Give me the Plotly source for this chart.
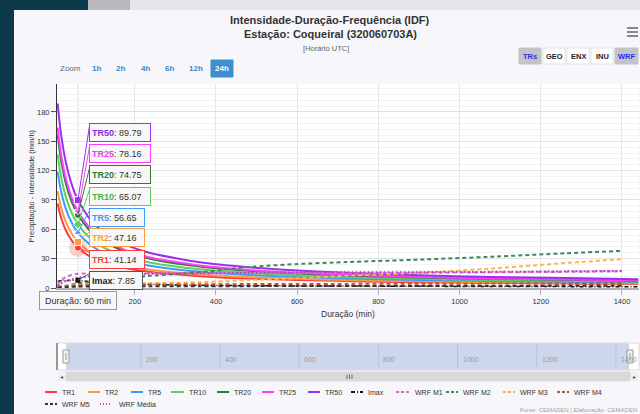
import plotly.graph_objects as go

# ---------------- data ----------------
DUR = [10, 15, 20, 30, 45, 60, 90, 120, 180, 240, 360, 480, 600, 720, 900, 1080, 1260, 1440]
DUR_WRF = [10, 15, 20, 30, 45, 60, 90, 120, 180, 240, 360, 480, 600, 720, 900, 1080, 1260, 1400]

TR1 = [86.4, 77.1, 69.8, 59.0, 48.3, 41.14, 32.1, 26.6, 20.1, 16.3, 12.1, 9.7, 8.2, 7.1, 6.0, 5.2, 4.6, 4.1]
TR2 = [99.0, 88.4, 80.0, 67.6, 55.4, 47.16, 36.8, 30.5, 23.0, 18.7, 13.8, 11.1, 9.4, 8.2, 6.8, 5.9, 5.3, 4.7]
TR5 = [119.0, 106.2, 96.1, 81.2, 66.5, 56.65, 44.2, 36.6, 27.6, 22.5, 16.6, 13.4, 11.3, 9.8, 8.2, 7.1, 6.3, 5.7]
TR10 = [136.6, 122.0, 110.4, 93.3, 76.4, 65.07, 50.8, 42.0, 31.8, 25.8, 19.1, 15.4, 12.9, 11.3, 9.4, 8.2, 7.3, 6.5]
TR20 = [157.0, 140.2, 126.9, 107.2, 87.8, 74.75, 58.4, 48.3, 36.5, 29.7, 21.9, 17.6, 14.9, 12.9, 10.8, 9.4, 8.4, 7.5]
TR25 = [164.1, 146.6, 132.6, 112.1, 91.8, 78.16, 61.0, 50.5, 38.1, 31.0, 22.9, 18.4, 15.6, 13.5, 11.3, 9.8, 8.8, 7.8]
TR50 = [188.6, 168.4, 152.4, 128.8, 105.4, 89.79, 70.1, 58.0, 43.8, 35.6, 26.3, 21.2, 17.9, 15.5, 13.0, 11.3, 10.1, 9.0]
IMAX = [7.0, 7.3, 7.5, 7.7, 7.8, 7.85, 6.6, 5.4, 4.1, 3.4, 2.7, 2.3, 2.0, 1.8, 1.6, 1.5, 1.4, 1.3]

WRF_M1 = [3.0, 6.0, 8.5, 11.0, 13.5, 14.5, 15.0, 15.0, 15.0, 15.0, 15.0, 15.0, 15.2, 15.3, 15.5, 16.0, 16.5, 17.0]
WRF_M2 = [1.0, 1.5, 2.0, 2.5, 3.5, 4.5, 6.0, 7.5, 10.0, 12.5, 16.0, 21.5, 24.5, 26.5, 29.0, 32.0, 35.5, 38.0]
WRF_M3 = [1.0, 1.2, 1.5, 2.0, 2.5, 3.0, 3.5, 4.0, 4.5, 5.0, 6.0, 8.0, 10.0, 12.5, 15.5, 20.0, 25.5, 29.5]
WRF_M4 = [0.5, 0.8, 1.0, 1.5, 2.0, 2.5, 3.0, 3.2, 3.5, 3.6, 3.8, 4.0, 4.0, 4.2, 4.3, 4.5, 4.6, 4.8]
WRF_M5 = [0.5, 0.6, 0.8, 1.0, 1.2, 1.4, 1.5, 1.6, 1.7, 1.8, 1.8, 1.9, 2.0, 2.0, 2.1, 2.1, 2.2, 2.2]
WRF_MEDIA = [2.0, 3.5, 5.0, 7.0, 9.0, 10.5, 12.0, 13.0, 14.0, 14.5, 15.0, 15.5, 16.0, 16.0, 16.2, 16.5, 17.0, 17.5]

HOVER_DUR = 60
X_TICKS = [200, 400, 600, 800, 1000, 1200, 1400]
Y_TICKS = [0, 30, 60, 90, 120, 150, 180]
NAV_TICKS = [200, 400, 600, 800, 1000, 1200, 1400]
ZOOM_BUTTONS = ["1h", "2h", "4h", "6h", "12h", "24h"]
TOP_BUTTONS = ["TRs", "GEO", "ENX", "INU", "WRF"]

TR_SERIES = [
    ("TR1", TR1, "#ff3b3b", "circle"),
    ("TR2", TR2, "#ff9a3c", "square"),
    ("TR5", TR5, "#3d9bff", "triangle-up"),
    ("TR10", TR10, "#5ccf5c", "diamond"),
    ("TR20", TR20, "#2f7d34", "circle"),
    ("TR25", TR25, "#ff3dff", "triangle-down"),
    ("TR50", TR50, "#9b2ff0", "square"),
]
WRF_SERIES = [
    ("WRF M1", WRF_M1, "#cf6fd6", "4px,3px"),
    ("WRF M2", WRF_M2, "#3a8a5a", "4px,3px"),
    ("WRF M3", WRF_M3, "#ffb446", "4px,3px"),
    ("WRF M4", WRF_M4, "#b8533c", "4px,3px"),
    ("WRF M5", WRF_M5, "#333333", "4px,3px"),
    ("WRF Média", WRF_MEDIA, "#c43fc4", "2px,2px"),
]

# ---------------- geometry helpers ----------------
W, H = 640, 414
ML, MR, MT, MB = 57, 1, 84, 126
PW, PH = W - ML - MR, H - MT - MB
X0, X1 = 8.4, 1441.9
Y0, Y1 = 0.0, 208.6
FONT = "Liberation Sans, Arial, sans-serif"


def pxp(x):
    return (x - ML) / PW


def pyp(y):
    return (H - MB - y) / PH


def dx(x):
    return X0 + (x - ML) / PW * (X1 - X0)


def dy(y):
    return Y0 + (H - MB - y) / PH * (Y1 - Y0)


shapes = []
annotations = []


def rect(x0, y0, x1, y1, fill, line=None, lw=0, layer="below"):
    shapes.append(dict(type="rect", xref="paper", yref="paper",
                       x0=pxp(x0), x1=pxp(x1), y0=pyp(y1), y1=pyp(y0),
                       fillcolor=fill, line=dict(color=line or fill, width=lw), layer=layer))


def hline(x0, x1, y, color, width=1, dash="solid", layer="above"):
    shapes.append(dict(type="line", xref="paper", yref="paper",
                       x0=pxp(x0), x1=pxp(x1), y0=pyp(y), y1=pyp(y),
                       line=dict(color=color, width=width, dash=dash), layer=layer))


def vline(x, y0, y1, color, width=1, layer="above"):
    shapes.append(dict(type="line", xref="paper", yref="paper",
                       x0=pxp(x), x1=pxp(x), y0=pyp(y0), y1=pyp(y1),
                       line=dict(color=color, width=width), layer=layer))


def text(x, y, s, size=8, color="#333333", xanchor="center", bold=False):
    annotations.append(dict(xref="paper", yref="paper", x=pxp(x), y=pyp(y),
                            text=("<b>%s</b>" % s) if bold else s, showarrow=False,
                            xanchor=xanchor, yanchor="middle",
                            font=dict(size=size, color=color, family=FONT)))


fig = go.Figure()

# ---------------- traces ----------------
for name, vals, color, sym in TR_SERIES:
    fig.add_trace(go.Scatter(x=DUR, y=vals, mode="lines", name=name, showlegend=False,
                             line=dict(color=color, width=2, shape="spline", smoothing=0.6)))
fig.add_trace(go.Scatter(x=DUR, y=IMAX, mode="lines", name="Imax", showlegend=False,
                         line=dict(color="#111111", width=1.5, dash="4px,2px,1px,2px")))
for name, vals, color, dash in WRF_SERIES:
    fig.add_trace(go.Scatter(x=DUR_WRF, y=vals, mode="lines", name=name, showlegend=False,
                             line=dict(color=color, width=2, dash=dash, shape="spline", smoothing=0.5)))

hi = DUR.index(HOVER_DUR)
# halo on TR1
fig.add_trace(go.Scatter(x=[DUR[hi]], y=[TR1[hi]], mode="markers", showlegend=False,
                         marker=dict(size=18, color="rgba(255,59,59,0.25)")))
for name, vals, color, sym in TR_SERIES:
    fig.add_trace(go.Scatter(x=[DUR[hi]], y=[vals[hi]], mode="markers", showlegend=False,
                             marker=dict(size=7, color=color, symbol=sym,
                                         line=dict(color="#ffffff", width=1))))
fig.add_trace(go.Scatter(x=[DUR[hi]], y=[IMAX[hi]], mode="markers", showlegend=False,
                         marker=dict(size=5, color="#111111", symbol="square")))

# crosshair
shapes.append(dict(type="line", xref="x", yref="paper", x0=DUR[hi], x1=DUR[hi], y0=0, y1=1,
                   line=dict(color="#dddddd", width=1), layer="below"))

# ---------------- background pieces ----------------
rect(-5, -5, 14, 420, "#0d3a4b")
rect(14, -5, 88, 10, "#0d3a4b")
rect(88, -5, 130, 10, "#b9b9bd")
rect(130, -5, 645, 10, "#e6e6ea")

# ---------------- titles ----------------
text(330, 20, "Intensidade-Duração-Frequência (IDF)", 11, "#333333", bold=True)
text(330, 34.5, "Estação: Coqueiral (320060703A)", 11, "#333333", bold=True)
text(326, 49, "[Horário UTC]", 7.5, "#666666")

# menu icon
for yy in (28, 32, 36):
    hline(627, 638, yy, "#666666", 1.5)

# zoom buttons
text(70, 68, "Zoom", 8, "#666666")
zb_x = [96, 120, 145, 169, 196, 222]
for lab, xx in zip(ZOOM_BUTTONS, zb_x):
    if lab == "24h":
        shapes.append(dict(type="rect", xref="paper", yref="paper",
                           x0=pxp(211), x1=pxp(233), y0=pyp(77), y1=pyp(60),
                           fillcolor="#3d8fd1", line=dict(color="#3d8fd1", width=1), layer="above"))
        text(xx, 68.5, lab, 8, "#ffffff", bold=True)
    else:
        text(xx, 68.5, lab, 8, "#3b86c6", bold=True)

# top-right buttons
tb = [(519, 541), (543, 565), (567, 589), (591, 613), (615, 638)]
for lab, (a, b) in zip(TOP_BUTTONS, tb):
    on = lab in ("TRs", "WRF")
    shapes.append(dict(type="rect", xref="paper", yref="paper",
                       x0=pxp(a), x1=pxp(b), y0=pyp(64), y1=pyp(48),
                       fillcolor="#c4c4c8" if on else "#ffffff",
                       line=dict(color="#c4c4c8" if on else "#e2e2e2", width=1), layer="above"))
    text((a + b) / 2, 56.5, lab, 7.5, "#2b2bf0" if on else "#222222", bold=True)

# axis titles
annotations.append(dict(xref="paper", yref="paper", x=pxp(24), y=pyp(186), textangle=-90,
                        text="Precipitação - Intensidade (mm/h)", showarrow=False,
                        font=dict(size=7.5, color="#333333", family=FONT)))
text(348, 314, "Duração (min)", 8.5, "#333333")

# ---------------- tooltips ----------------
boxes = [
    ("TR50", TR50, "#9b2ff0", "#8a2be2", 123, 62),
    ("TR25", TR25, "#ff3dff", "#ee3aee", 143.5, 62),
    ("TR20", TR20, "#2f7d34", "#2f7d34", 165, 62),
    ("TR10", TR10, "#5ccf5c", "#45b845", 186.5, 62),
    ("TR5", TR5, "#3d9bff", "#3d9bff", 207.5, 56),
    ("TR2", TR2, "#ff9a3c", "#ff9a3c", 228.5, 56),
    ("TR1", TR1, "#ff3b3b", "#ff3b3b", 249.5, 56),
    ("Imax", IMAX, "#555555", "#222222", 270.5, 54),
]
BOX_LEFT = 89
for name, vals, bcol, tcol, top, w in boxes:
    v = vals[hi]
    # connector from the hovered point to the box corner
    shapes.append(dict(type="line", xref="x", yref="y", x0=DUR[hi], y0=v,
                       x1=dx(BOX_LEFT + 0.5), y1=dy(top + 3),
                       line=dict(color=bcol, width=1), layer="above"))
    annotations.append(dict(
        xref="paper", yref="paper", x=pxp(BOX_LEFT), y=pyp(top),
        xanchor="left", yanchor="top", showarrow=False,
        text="<b><span style='color:%s'>%s</span></b>: %.2f" % (tcol, name, v),
        bgcolor="#f7f7f7", bordercolor=bcol, borderwidth=1, borderpad=2,
        width=w - 6, height=13, align="left",
        font=dict(size=9, color="#333333", family=FONT)))
annotations.append(dict(xref="paper", yref="paper", x=pxp(39), y=pyp(291),
                        xanchor="left", yanchor="top", showarrow=False,
                        text="Duração: %d min" % DUR[hi], bgcolor="#f7f7f7",
                        bordercolor="#999999", borderwidth=1, borderpad=2,
                        width=72, height=13, align="center",
                        font=dict(size=9, color="#333333", family=FONT)))

# ---------------- navigator ----------------
NAV_T, NAV_B = 343, 370
NAV_PX0, NAV_K = 61.8, 0.3958
rect(57, NAV_T, 639, NAV_B, "#ffffff", "#d8d8e0", 1)
for t in NAV_TICKS:
    vline(NAV_PX0 + t * NAV_K, NAV_T, NAV_B, "#e0e0e8", 1, layer="below")
rect(66, NAV_T + 0.5, 629, NAV_B - 0.5, "rgba(102,133,194,0.33)", layer="above")
for t in NAV_TICKS:
    text(NAV_PX0 + t * NAV_K + 3, 359, str(t), 7, "#999999", xanchor="left")
vline(57, NAV_T, NAV_B, "#444444", 1)
for hx in (63, 627):
    shapes.append(dict(type="rect", xref="paper", yref="paper",
                       x0=pxp(hx), x1=pxp(hx + 6), y0=pyp(363), y1=pyp(350),
                       fillcolor="#f2f2f2", line=dict(color="#999999", width=1), layer="above"))
    vline(hx + 3, 353, 360, "#999999", 1)
# scrollbar
rect(57, 372, 639, 381, "#f0f0f0")
shapes.append(dict(type="rect", xref="paper", yref="paper",
                   x0=pxp(66), x1=pxp(630), y0=pyp(381), y1=pyp(372),
                   fillcolor="#d9d9d9", line=dict(color="#d9d9d9", width=1), layer="above"))
for gx in (347, 349.5, 352):
    vline(gx, 374.5, 379, "#666666", 1)
text(61, 376.5, "◂", 6, "#555555")
text(634, 376.5, "▸", 6, "#555555")

# ---------------- legend (manual) ----------------
legend_items = [
    ("TR1", "#ff3b3b", "solid", 45, 57, 60, 392),
    ("TR2", "#ff9a3c", "solid", 88, 100, 103, 392),
    ("TR5", "#3d9bff", "solid", 131, 143, 146, 392),
    ("TR10", "#5ccf5c", "solid", 171, 184, 187, 392),
    ("TR20", "#2f7d34", "solid", 217, 229, 232, 392),
    ("TR25", "#ff3dff", "solid", 262, 274, 277, 392),
    ("TR50", "#9b2ff0", "solid", 308, 320, 323, 392),
    ("Imax", "#111111", "4px,2px,1px,2px", 351, 363, 366, 392),
    ("WRF M1", "#cf6fd6", "3px,2px", 396, 409, 413, 392),
    ("WRF M2", "#3a8a5a", "3px,2px", 446, 458, 461, 392),
    ("WRF M3", "#ffb446", "3px,2px", 503, 515, 518, 392),
    ("WRF M4", "#b8533c", "3px,2px", 557, 569, 572, 392),
    ("WRF M5", "#333333", "3px,2px", 45, 57, 60, 404),
    ("WRF Média", "#c43fc4", "1px,2px", 100, 112, 117, 404),
]
for lab, col, dash, a, b, tx, yy in legend_items:
    hline(a, b, yy, col, 2, dash)
    text(tx, yy, lab, 7, "#333333", xanchor="left")

# footer
text(518, 410, "Fonte: CEMADEN | Elaboração: CEMADEN", 6, "#a0a0a8", xanchor="left")

fig.update_layout(
    width=W, height=H, margin=dict(l=ML, r=MR, t=MT, b=MB, pad=0),
    paper_bgcolor="#f7f7fb", plot_bgcolor="#ffffff",
    font=dict(family=FONT, size=8, color="#333333"),
    showlegend=False, shapes=shapes, annotations=annotations,
    xaxis=dict(range=[X0, X1], tickvals=X_TICKS, ticktext=[str(t) for t in X_TICKS],
               showgrid=True, gridcolor="#e6e6e6", gridwidth=1, zeroline=False,
               showline=True, linecolor="#b0b0b8", linewidth=1.5,
               ticks="outside", ticklen=5, tickcolor="#b0b0b8",
               tickfont=dict(size=7.5, color="#333333")),
    yaxis=dict(range=[Y0, Y1], tickvals=Y_TICKS, ticktext=[str(t) for t in Y_TICKS],
               showgrid=True, gridcolor="#e3e3e3", gridwidth=1, zeroline=False,
               minor=dict(dtick=6, tick0=0, showgrid=True, gridcolor="#f3f3f3"),
               showline=True, linecolor="#333333", linewidth=1,
               ticks="outside", ticklen=5, tickcolor="#555555",
               tickfont=dict(size=7.5, color="#333333")),
)

fig.write_html("out.html", config={"displayModeBar": False},
               post_script="document.body.style.margin='0';document.body.style.overflow='hidden';")
